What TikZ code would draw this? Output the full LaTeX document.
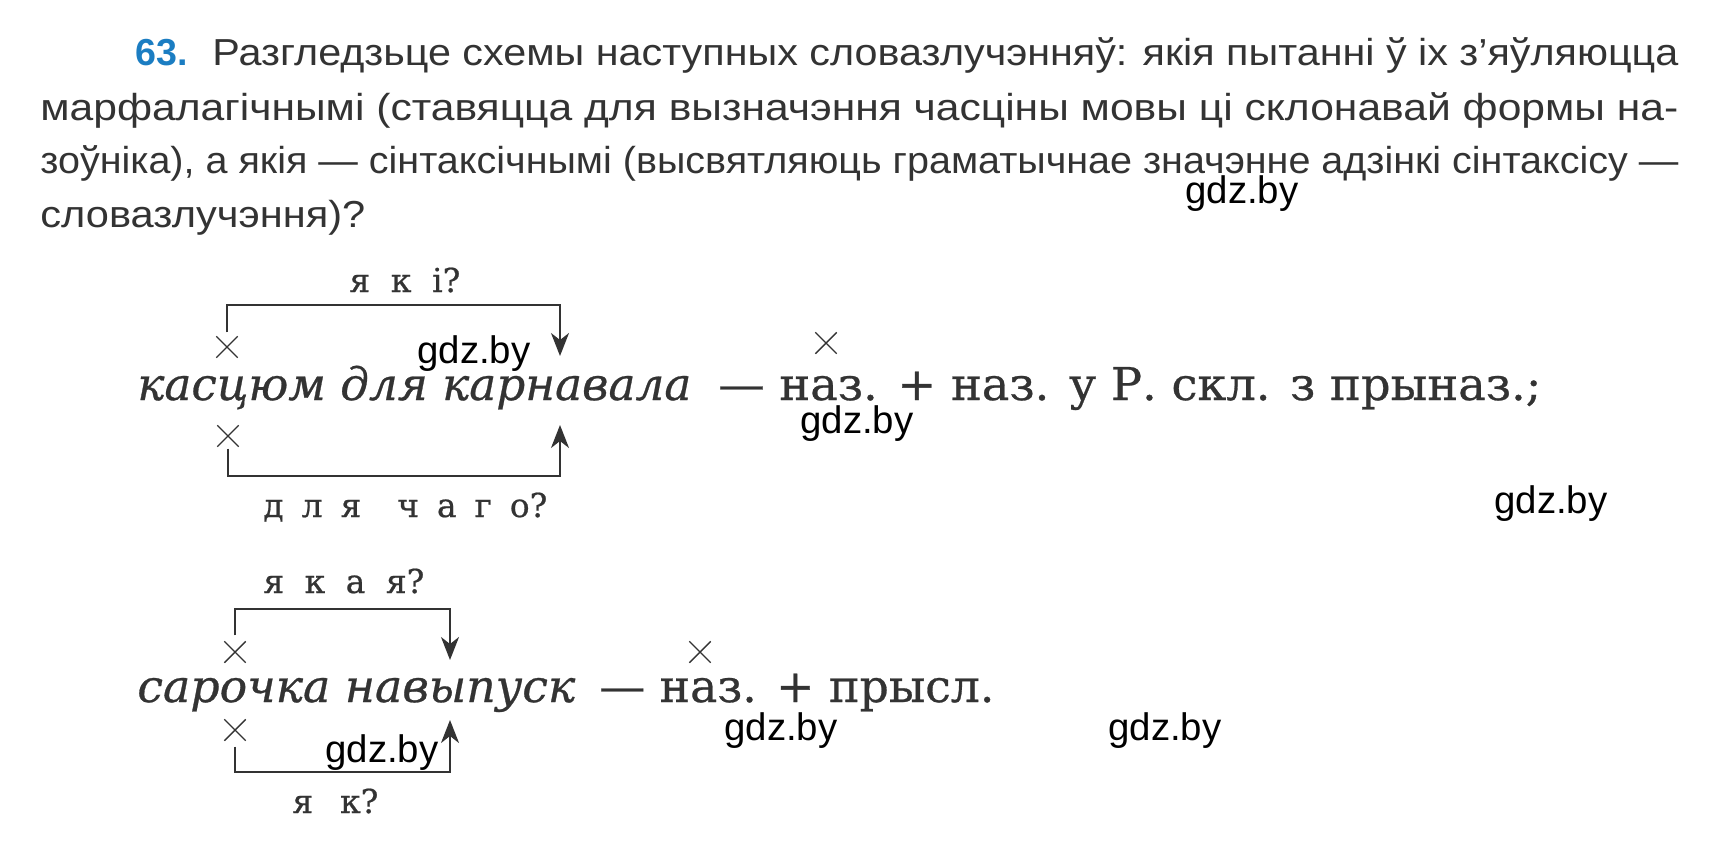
\documentclass[tikz,border=0pt]{standalone}
\usepackage{fontspec}
\usepackage{graphicx}
\usepackage{xcolor}
\usepackage{tikz}
\usetikzlibrary{arrows.meta,shapes.misc}
\setmainfont{DejaVu Serif}
\newfontfamily\hdrfont{Liberation Sans}
\newfontfamily\schfont[FakeBold=0.6]{DejaVu Serif}
\definecolor{inkgray}{HTML}{333333}
\definecolor{numblue}{HTML}{1B7DC2}
\newdimen\pxu \pxu=0.5pt
\newcommand\fitw[2]{\resizebox{#1\pxu}{\height}{#2}}
\newcommand\spreadw[2]{\hbox to #1\pxu{#2}}

\begin{document}
\begin{tikzpicture}[x=0.5pt, y=-0.5pt,
    every node/.style={inner sep=0pt, anchor=base west, text=inkgray},
    hdr/.style={font=\hdrfont\fontsize{18.8pt}{22pt}\selectfont},
    phrase/.style={font=\schfont\fontsize{22.6pt}{26pt}\selectfont},
    ask/.style={font=\schfont\fontsize{16.5pt}{19pt}\selectfont},
    xmark/.style={cross out, draw=inkgray, line width=0.7pt, minimum size=10pt, anchor=center},
    link/.style={draw=inkgray, line width=1pt, -{Stealth[length=11.5pt,width=9pt,inset=3.5pt]}},
    wmark/.style={font=\hdrfont\fontsize{19.2pt}{22pt}\selectfont, text=black}]
    \useasboundingbox (0,0) rectangle (1718,851);

    % task text
    \node[hdr, text=numblue] (num) at (135,65) {\bfseries 63.};
    \node[hdr] (row1) at (212,65) {\fitw{1466}{Разгледзьце схемы наступных словазлучэнняў: якія пытанні ў іх з’яўляюцца}};
    \node[hdr] (row2) at (40,120) {\fitw{1638}{марфалагічнымі (ставяцца для вызначэння часціны мовы ці склонавай формы на-}};
    \node[hdr] (row3) at (40,173) {\fitw{1638}{зоўніка), а якія — сінтаксічнымі (высвятляюць граматычнае значэнне адзінкі сінтаксісу —}};
    \node[hdr] (row4) at (40,227) {\fitw{325}{словазлучэння)?}};

    % first phrase
    \node[phrase] (word1) at (137,400) {\fitw{554}{\itshape касцюм для карнавала}};
    \node[phrase] (rest1) at (718,400) {\fitw{823}{— наз. + наз. у Р. скл. з прыназ.;}};
    \node[xmark] (xa1) at (227,347) {};
    \node[xmark] (xb1) at (228,436) {};
    \node[xmark] (xc1) at (826,343) {};
    \coordinate (bar1) at (0,305);
    \coordinate (bar2) at (0,476);
    \coordinate (tip1) at (560,356);
    \coordinate (tip2) at (560,425);
    \draw[link] ([yshift=2pt]xa1.north) -- (xa1 |- bar1) -- (tip1 |- bar1) -- (tip1);
    \draw[link] ([yshift=-1pt]xb1.south) -- (xb1 |- bar2) -- (tip2 |- bar2) -- (tip2);
    \node[ask] (ask1) at (349,292) {\spreadw{111}{я к і?}};
    \node[ask] (ask2) at (263,517) {\spreadw{284}{д л я~ ч а г о?}};

    % second phrase
    \node[phrase] (word2) at (137,702) {\fitw{438}{\itshape сарочка навыпуск}};
    \node[phrase] (rest2) at (599,702) {\fitw{395}{— наз. + прысл.}};
    \node[xmark] (xa2) at (235,652) {};
    \node[xmark] (xb2) at (235,730) {};
    \node[xmark] (xc2) at (700,652) {};
    \coordinate (bar3) at (0,609);
    \coordinate (bar4) at (0,772);
    \coordinate (tip3) at (450,660);
    \coordinate (tip4) at (450,720);
    \draw[link] ([yshift=3pt]xa2.north) -- (xa2 |- bar3) -- (tip3 |- bar3) -- (tip3);
    \draw[link] ([yshift=-3pt]xb2.south) -- (xb2 |- bar4) -- (tip4 |- bar4) -- (tip4);
    \node[ask] (ask3) at (263,593) {\spreadw{161}{я к а я?}};
    \node[ask] (ask4) at (292,813) {\spreadw{86}{я к?}};

    % watermarks
    \foreach \wx/\wy [count=\i] in {1185/203, 417/363, 800/433, 1494/513, 724/740, 1108/740, 325/762}
        \node[wmark] (wm\i) at (\wx,\wy) {gdz.by};
\end{tikzpicture}
\end{document}
